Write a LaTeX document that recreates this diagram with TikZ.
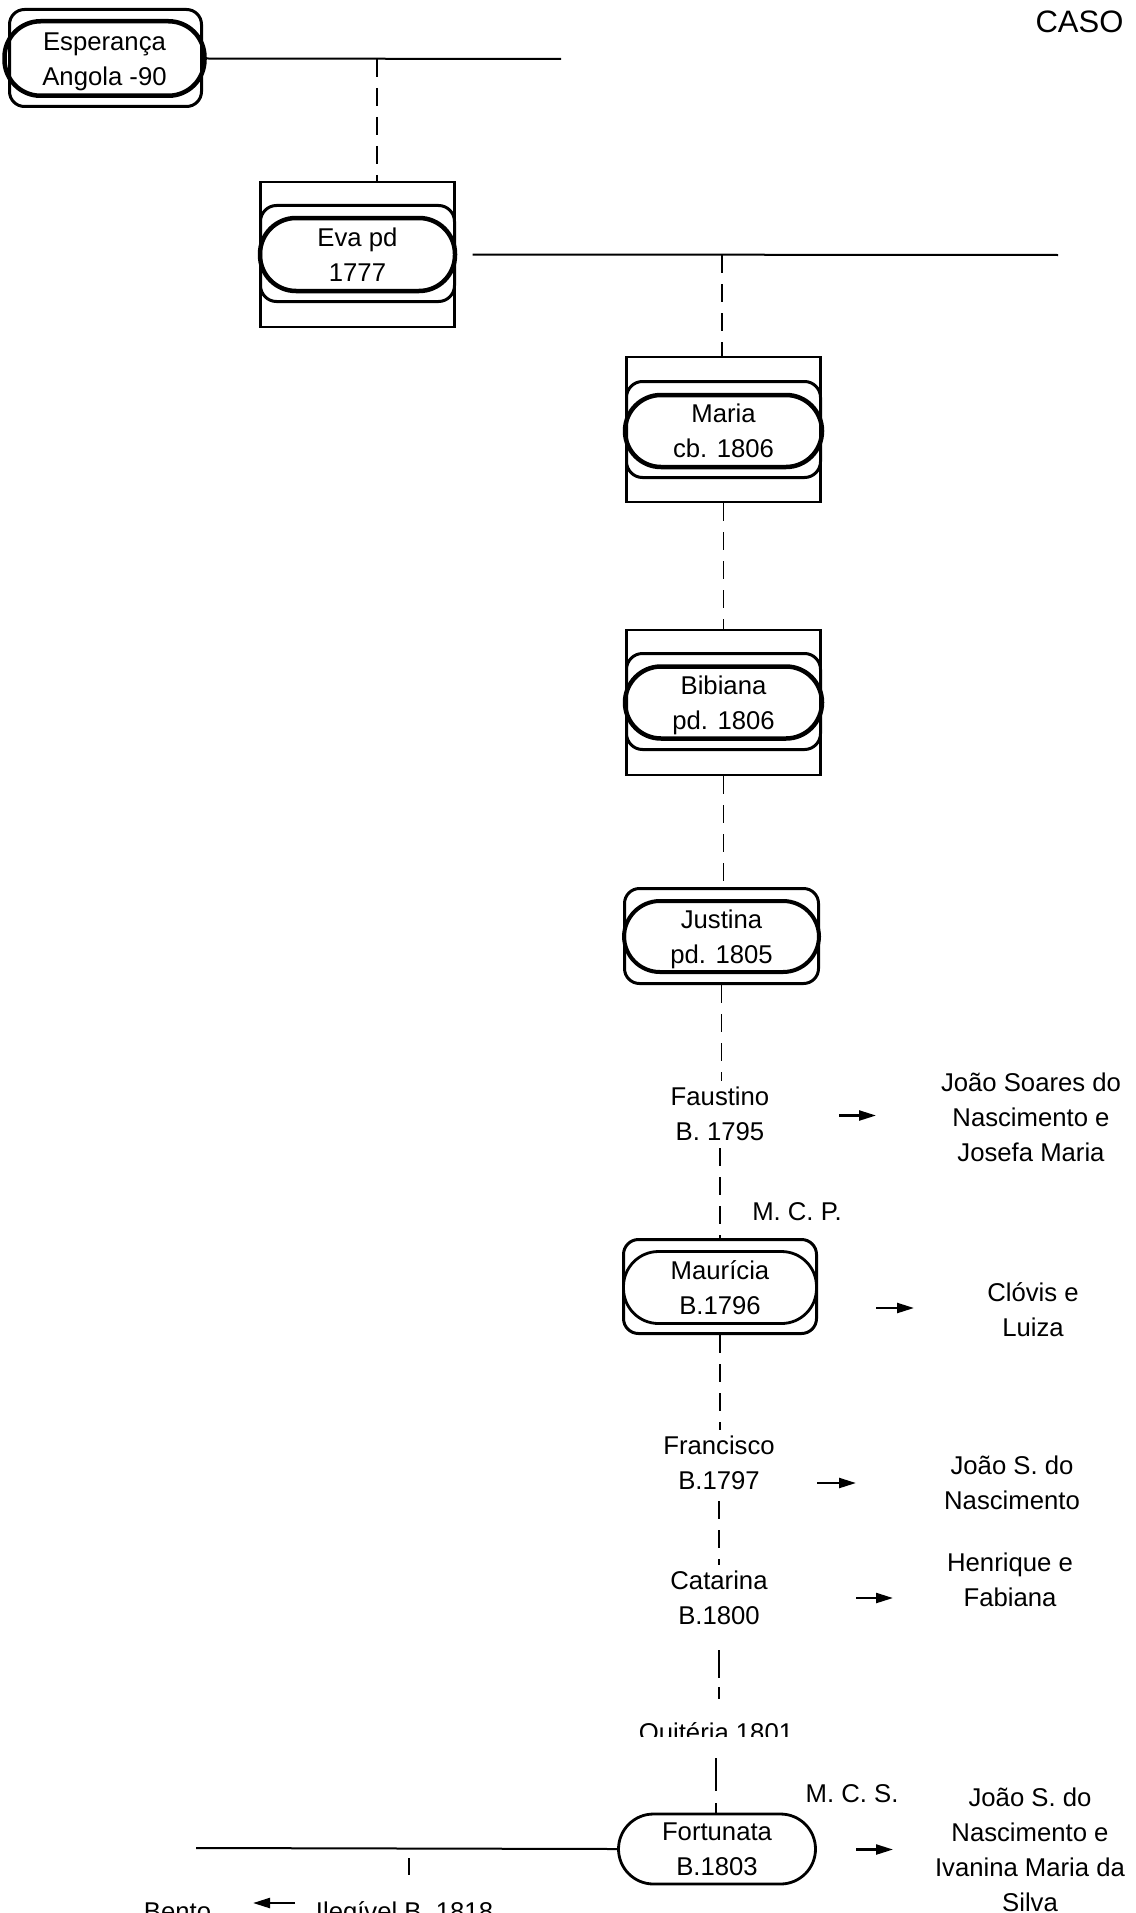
\documentclass[tikz,border=0pt]{standalone}
\usepackage{fontspec}
\setmainfont{Liberation Sans}
\usetikzlibrary{arrows.meta,calc}
\newcommand{\Ln}[1]{\raisebox{0pt}[18.4pt][0pt]{#1}}
\begin{document}
\begin{tikzpicture}[x=1pt,y=-1pt,
  txt/.style={font=\fontsize{25.7}{35}\selectfont, align=center, inner sep=0pt},
  outerbox/.style={draw, line width=2.2pt, minimum width=194pt, minimum height=145pt, inner sep=0pt, fill=white},
  innerbox/.style={draw, line width=3pt, rounded corners=16pt, minimum width=194pt, minimum height=96pt, inner sep=0pt},
  rbox/.style={draw, line width=3pt, rounded corners=15pt, inner sep=0pt, fill=white},
  stadthick/.style={draw, line width=4.5pt, rounded corners=36pt, inner sep=0pt, txt},
  stadthin/.style={draw, line width=2.8pt, rounded corners=35pt, inner sep=0pt, txt, fill=white},
  hline/.style={line width=2pt},
  vdash/.style={line width=1.8pt, dash pattern=on 18pt off 11pt},
  arr/.style={line width=2.3pt, -{Triangle[length=17pt,width=10pt]}}
]
\fill[white] (0,0) rectangle (1135,1913);
\useasboundingbox (0,0) rectangle (1135,1913);

% title
\node[inner sep=0pt, font=\fontsize{31}{36}\selectfont] (caso) at (1079.5,21.5) {CASO};

% Esperanca
\node[rbox, minimum width=192pt, minimum height=97pt] (espB) at (105.5,58) {};
\node[stadthick, minimum width=200pt, minimum height=74.5pt] (esp) at (104.5,58.5) {\Ln{Esperança}\\\Ln{Angola -90}};
\coordinate (espR) at (561,59);
\coordinate (espJ) at (377,59);
\draw[hline] (esp.east) -- (espR);

% Eva
\node[outerbox] (evaO) at (357.5,254.5) {};
\node[innerbox] (evaI) at (357.5,253.5) {};
\node[stadthick, minimum width=195pt, minimum height=73pt] (eva) at (357.5,254.5) {\Ln{Eva pd}\\\Ln{1777}};
\coordinate (evaR) at (1058,255);
\coordinate (evaJ) at (722,255);
\draw[vdash] (espJ) -- (espJ |- evaO.north);
\draw[hline] ([xshift=17pt]evaO.east) -- (evaR);

% Maria
\node[outerbox] (mariaO) at (723.5,429.5) {};
\node[innerbox] (mariaI) at (723.5,429.5) {};
\node[stadthick, minimum width=197pt, minimum height=72pt] (maria) at (723.5,431) {\Ln{Maria}\\\Ln{cb. 1806}};
\draw[vdash] (evaJ) -- (evaJ |- mariaO.north);

% Bibiana
\node[outerbox] (bibO) at (723.5,702.5) {};
\node[innerbox] (bibI) at (723.5,701.5) {};
\node[stadthick, minimum width=197pt, minimum height=72pt] (bib) at (723.5,702.5) {\Ln{Bibiana}\\\Ln{pd. 1806}};
\draw[vdash] (mariaO.south) -- (mariaO.south |- bibO.north);

% Justina
\node[rbox, minimum width=194pt, minimum height=95pt] (jusB) at (721.5,936) {};
\node[stadthick, line width=4pt, minimum width=195pt, minimum height=71pt] (jus) at (721.5,936.5) {\Ln{Justina}\\\Ln{pd. 1805}};
\draw[vdash] (bibO.south) -- (bibO.south |- jusB.north);

% Faustino
\node[txt] (faus) at (720,1113.5) {\Ln{Faustino}\\\Ln{B. 1795}};
\node[txt] (jsn1) at (1031,1117) {\Ln{João Soares do}\\\Ln{Nascimento e}\\\Ln{Josefa Maria}};
\draw[vdash, shorten >=6pt] (jusB.south) -- (jusB.south |- faus.north);
\draw[arr] ([shift={(119,2)}]faus.center) -- ++(37,0);

% Mauricia
\node[txt] (mcp) at (797,1211) {\Ln{M. C. P.}};
\node[rbox, minimum width=193pt, minimum height=94pt] (maurB) at (720,1286.5) {};
\node[stadthin, minimum width=193pt, minimum height=72pt] (maur) at (720,1287.5) {\Ln{Maurícia}\\\Ln{B.1796}};
\node[txt] (clov) at (1033,1309.5) {\Ln{Clóvis e}\\\Ln{Luiza}};
\draw[vdash, shorten <=8pt] (faus.south) -- (faus.south |- maurB.north);
\draw[arr] ([shift={(156,20.5)}]maur.center) -- ++(38,0);

% Francisco
\node[txt] (fran) at (719,1462.5) {\Ln{Francisco}\\\Ln{B.1797}};
\node[txt] (jsn2) at (1012,1482.5) {\Ln{João S. do}\\\Ln{Nascimento}};
\draw[vdash, shorten >=6pt] (maurB.south) -- (maurB.south |- fran.north);
\draw[arr] ([shift={(98,20.5)}]fran.center) -- ++(39,0);

% Catarina
\node[txt] (cat) at (719,1597.5) {\Ln{Catarina}\\\Ln{B.1800}};
\node[txt] (henr) at (1010,1579.5) {\Ln{Henrique e}\\\Ln{Fabiana}};
\draw[vdash, shorten <=12pt, shorten >=6pt] (fran.south) -- (fran.south |- cat.north);
\draw[arr] ([shift={(137,0.5)}]cat.center) -- ++(37,0);

% Quiteria (printed cut off)
\begin{scope}
\clip (600,1690) rectangle (840,1736);
\node[txt, anchor=base] (quit) at (716,1741) {Quitéria 1801};
\end{scope}
\draw[line width=1.8pt, dash pattern=on 28pt off 9pt on 12pt off 60pt, shorten <=26pt] (cat.south) -- (cat.south |- quit.north);

% Fortunata
\node[txt] (mcs) at (852,1793.5) {\Ln{M. C. S.}};
\node[stadthin, minimum width=197pt, minimum height=70pt] (fort) at (717,1849) {\Ln{Fortunata}\\\Ln{B.1803}};
\node[txt] (jsn3) at (1030,1850) {\Ln{João S. do}\\\Ln{Nascimento e}\\\Ln{Ivanina Maria da}\\\Ln{Silva}};
\draw[line width=1.8pt, dash pattern=on 33pt off 12pt on 12pt off 60pt, shorten <=12pt] (quit.south) -- (quit.south |- fort.north);
\draw[arr] ([shift={(139,0.5)}]fort.center) -- ++(37,0);
\coordinate (fortL) at (196,1848);
\draw[hline] (fortL) -- (fort.west);

% bottom row (printed cut off)
\node[txt, anchor=base] (bento) at (177.5,1920) {Bento};
\node[txt, anchor=base] (ileg) at (404.5,1920) {Ilegível B. 1818};
\coordinate (fortJ) at (409,1848);
\draw[line width=1.8pt, dash pattern=on 0pt off 10pt on 17pt off 100pt] (fortJ) -- (fortJ |- ileg.north);
\draw[arr] ([shift={(-109.5,-17)}]ileg.base) -- ++(-42,0);
\end{tikzpicture}
\end{document}
